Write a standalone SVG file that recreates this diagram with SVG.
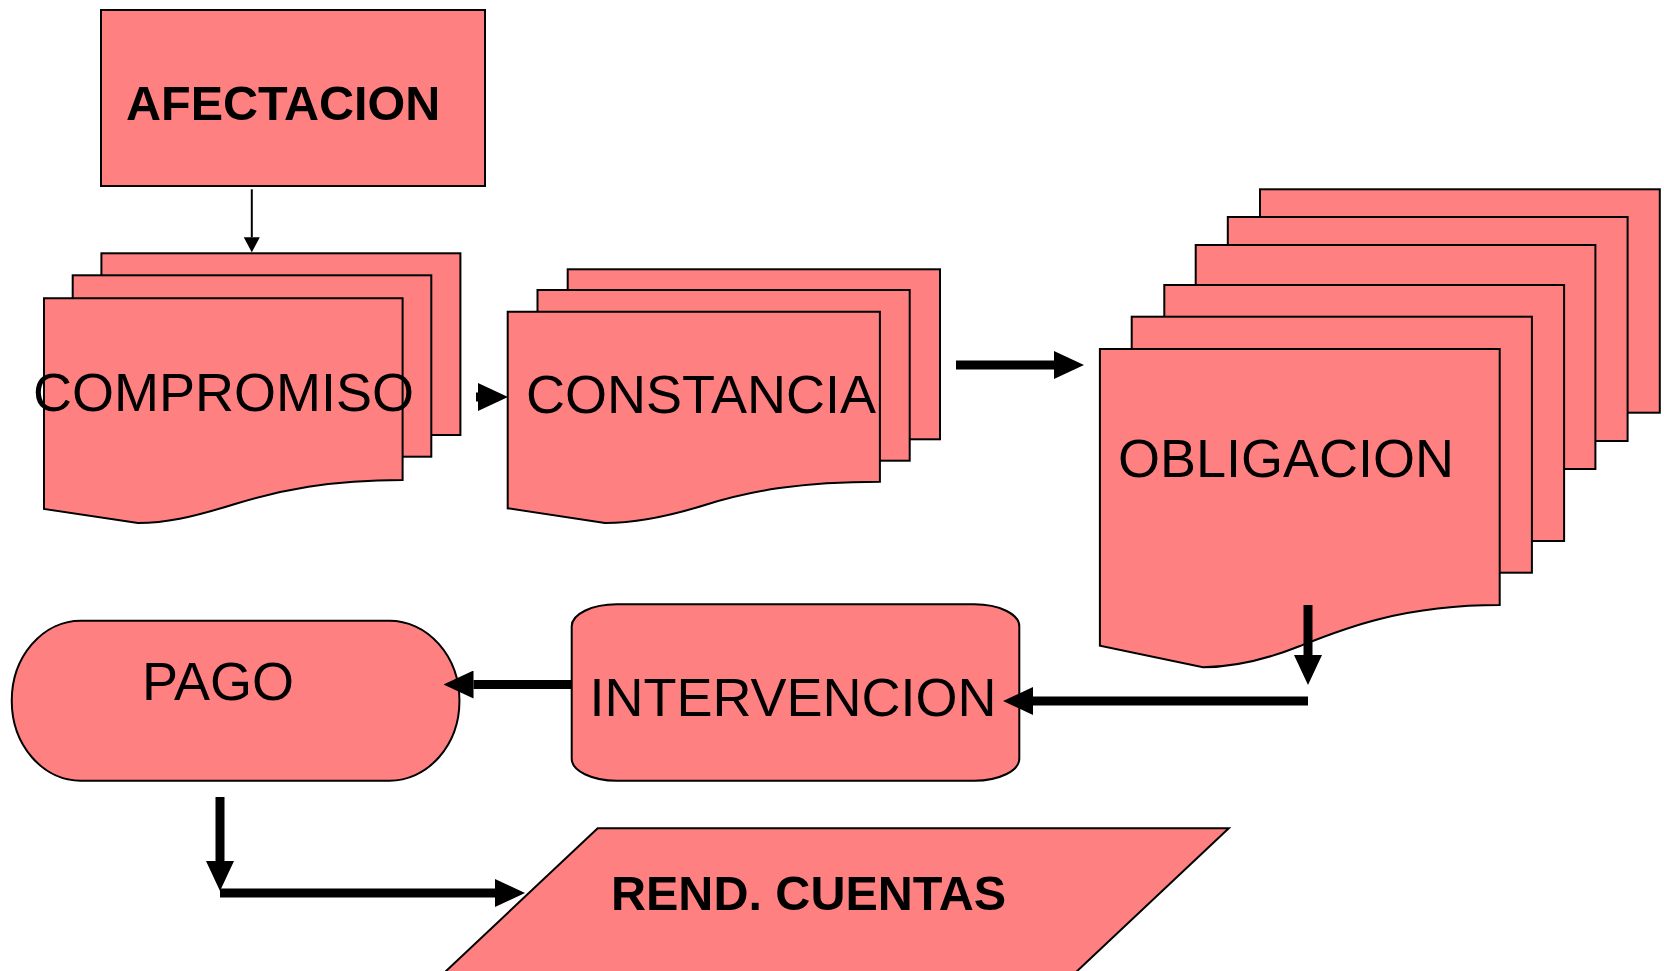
<svg xmlns="http://www.w3.org/2000/svg" width="1664" height="971" viewBox="0 0 1664 971">
<style>
.s{fill:#FF8080;stroke:#000;stroke-width:2;stroke-linejoin:miter}
.t{font-family:"Liberation Sans",Arial,sans-serif;font-size:54px;fill:#000}
.b{font-family:"Liberation Sans",Arial,sans-serif;font-size:48.5px;font-weight:bold;fill:#000}
.c{fill:none;stroke:#000;stroke-width:9}
.ct{fill:none;stroke:#000;stroke-width:2}
</style>
<defs>
<marker id="ah" markerUnits="userSpaceOnUse" viewBox="0 0 30 28" refX="0" refY="14" markerWidth="30" markerHeight="28" orient="auto"><path d="M0,0 L30,14 L0,28 Z" fill="#000"/></marker>
<marker id="ahs" markerUnits="userSpaceOnUse" viewBox="0 0 15 16" refX="0" refY="8" markerWidth="15" markerHeight="16" orient="auto"><path d="M0,0 L15,8 L0,16 Z" fill="#000"/></marker>
</defs>
<rect width="1664" height="971" fill="#fff"/>
<g id="afectacion">
<rect class="s" x="101" y="10" width="384" height="176"/>
<text class="b" x="126" y="119.5">AFECTACION</text>
</g>
<g id="compromiso">
<rect class="s" x="101.4" y="253.3" width="359" height="181.7"/>
<rect class="s" x="72.7" y="275.3" width="358.6" height="181.4"/>
<path class="s" d="M44,298.3 H402.6 V480 C330,480 280,490 235,504 S165,523 138,523 L44,509 Z"/>
<text class="t" x="33" y="410.5">COMPROMISO</text>
</g>
<g id="constancia">
<rect class="s" x="567.7" y="269.3" width="372.3" height="170"/>
<rect class="s" x="537.5" y="290" width="372.2" height="170.7"/>
<path class="s" d="M507.7,311.7 H879.9 V481.7 C800,481.7 750,491 705,505 S630,523 605,523 L507.7,508.3 Z"/>
<text class="t" x="526" y="412.5">CONSTANCIA</text>
</g>
<g id="obligacion">
<rect class="s" x="1260" y="189.3" width="399.8" height="223.4"/>
<rect class="s" x="1227.8" y="217" width="399.8" height="224"/>
<rect class="s" x="1195.7" y="245" width="399.7" height="224"/>
<rect class="s" x="1164.3" y="285" width="399.8" height="256"/>
<rect class="s" x="1131.7" y="316.7" width="400.2" height="256"/>
<path class="s" d="M1099.9,349 H1499.7 V605 C1400,605 1340,630 1300,646 S1230,667 1203,667.3 L1099.9,645.7 Z"/>
<text class="t" x="1118" y="476.5">OBLIGACION</text>
</g>
<g id="intervencion">
<rect class="s" x="571.7" y="604.3" width="447.6" height="176.4" rx="45" ry="22"/>
<text class="t" x="589.5" y="716">INTERVENCION</text>
</g>
<g id="pago">
<path class="s" d="M80.7,620.7 H389.5 A70,80 0 0 1 389.5,780.7 H80.7 A69,80 0 0 1 80.7,620.7 Z"/>
<text class="t" x="142" y="699.5">PAGO</text>
</g>
<g id="rend-cuentas">
<path class="s" d="M597.7,828.3 H1228.8 L1057,990 H425.9 Z"/>
<text class="b" x="611" y="909.5">REND. CUENTAS</text>
</g>
<g id="connectors">
<path class="ct" d="M251.8,189.3 V237.3" marker-end="url(#ahs)"/>
<path class="c" d="M476,397 H478" marker-end="url(#ah)"/>
<path class="c" d="M956,365 H1054" marker-end="url(#ah)"/>
<path class="c" d="M1308,605 V655" marker-end="url(#ah)"/>
<path class="c" d="M1308,701 H1033" marker-end="url(#ah)"/>
<path class="c" d="M571.7,684.5 H473.5" marker-end="url(#ah)"/>
<path class="c" d="M220,797 V861" marker-end="url(#ah)"/>
<path class="c" d="M220,893 H495" marker-end="url(#ah)"/>
</g>
</svg>
